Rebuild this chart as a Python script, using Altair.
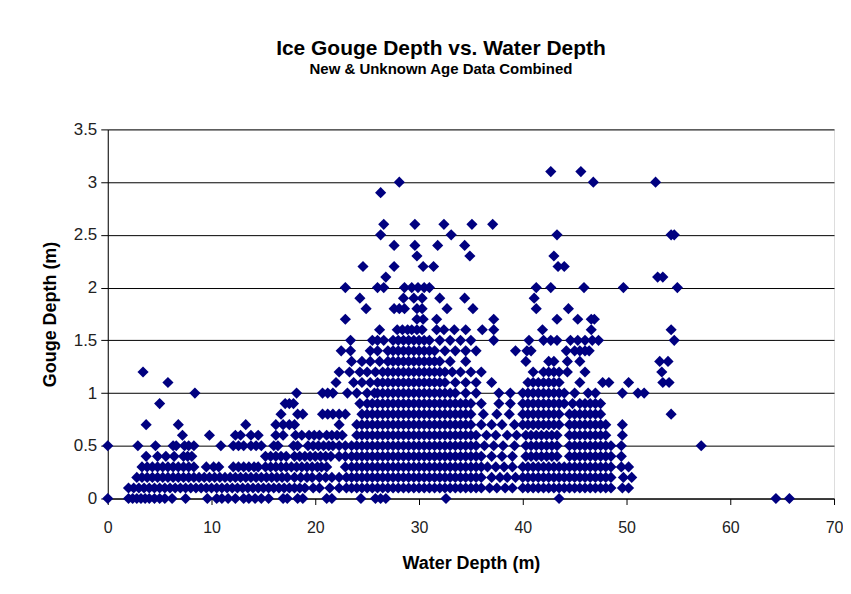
import altair as alt
import pandas as pd

# Gouge depth (m) -> water depths (m) of the gouges plotted at that gouge depth
SHALLOW = {
    0.0: [0.0, 2.0, 2.4, 2.8, 3.2, 3.6, 4.0, 4.5, 5.0, 5.5, 6.2, 7.5, 9.6, 10.5, 11.0, 11.6, 12.3, 13.1,
          13.6, 14.2, 14.8, 15.5, 16.9, 17.3, 18.3, 18.8, 21.1, 21.6],
    0.1: [2.0, 2.5, 3.0, 3.5, 4.0, 4.5, 5.0, 5.5, 6.0, 6.5, 7.0, 7.5, 8.0, 8.5, 9.0, 9.5, 10.0, 10.5, 11.0,
          11.5, 12.0, 12.5, 13.0, 13.5, 14.0, 14.5, 15.0, 15.5, 16.0, 16.5, 17.0, 17.5, 18.0, 18.5, 19.0,
          19.8, 20.4, 21.4, 22.3, 23.0],
    0.2: [2.8, 3.3, 3.8, 4.3, 4.8, 5.3, 5.8, 6.3, 6.8, 7.3, 7.8, 8.3, 8.8, 9.3, 9.8, 10.3, 10.8, 11.3, 11.8,
          12.3, 12.8, 13.3, 13.8, 14.3, 14.8, 15.3, 15.8, 16.3, 16.8, 17.3, 18.0, 18.6, 19.2, 19.7, 20.4,
          21.0, 21.6, 22.3, 23.0],
    0.3: [3.3, 3.8, 4.3, 4.8, 5.3, 5.8, 6.3, 6.8, 7.3, 7.8, 8.3, 9.5, 10.2, 10.7, 12.1, 12.6, 13.1, 13.6,
          14.1, 14.5, 15.2, 15.7, 16.2, 16.7, 17.2, 17.7, 18.2, 18.7, 19.2, 19.7, 20.2, 20.6, 21.1, 22.9],
    0.4: [3.7, 4.8, 5.6, 6.4, 7.3, 7.7, 8.1, 15.2, 15.7, 16.2, 16.7, 17.2, 18.0, 18.5, 19.0, 19.5, 20.0,
          20.5, 21.0, 21.5, 22.3, 22.9],
    0.5: [0.0, 2.9, 4.6, 6.3, 6.6, 7.4, 7.8, 8.3, 10.9, 12.1, 12.6, 13.1, 13.8, 14.3, 14.8, 16.0, 16.4,
          17.9, 18.3, 19.3, 19.8, 20.3, 20.8, 21.3, 21.7, 22.3, 22.9],
    0.6: [7.2, 9.8, 12.3, 12.8, 13.8, 14.5, 16.2, 16.9, 18.1, 18.7, 19.4, 19.9, 20.4, 21.1, 21.6, 22.1, 22.6],
    0.7: [3.7, 6.8, 13.3, 16.2, 16.9, 17.5, 18.0, 22.3],
    0.8: [16.7, 18.3, 18.8, 20.7, 21.2, 21.7, 22.3, 22.9],
    0.9: [5.0, 17.1, 17.5, 17.9],
    1.0: [8.4, 18.2, 20.7, 21.2, 21.7, 23.1],
    1.1: [5.8, 22.0],
    1.2: [3.4, 22.3],
}

CORE = {
    0.0: [24.4, 25.8, 26.3, 26.8, 32.6],
    0.1: [23.5, 24.0, 24.5, 25.0, 25.5, 26.0, 26.5, 27.0, 27.5, 28.0, 28.5, 29.0, 29.5, 30.0, 30.5, 31.0,
          31.5, 32.0, 32.5, 33.0, 33.5, 34.0, 34.5, 35.0, 35.5, 36.0, 36.8, 37.5, 38.3, 39.0],
    0.2: [23.5, 24.0, 24.5, 25.0, 25.5, 26.0, 26.5, 27.0, 27.5, 28.0, 28.5, 29.0, 29.5, 30.0, 30.5, 31.0,
          31.5, 32.0, 32.5, 33.0, 33.5, 34.0, 34.5, 35.0, 35.5, 36.0, 37.0, 37.8, 38.5, 39.3],
    0.3: [23.5, 24.0, 24.5, 25.0, 25.5, 26.0, 26.5, 27.0, 27.5, 28.0, 28.5, 29.0, 29.5, 30.0, 30.5, 31.0,
          31.5, 32.0, 32.5, 33.0, 33.5, 34.0, 34.5, 35.0, 35.5, 36.0, 36.6, 37.4, 38.2, 39.0],
    0.4: [23.5, 24.0, 24.5, 25.0, 25.5, 26.0, 26.5, 27.0, 27.5, 28.0, 28.5, 29.0, 29.5, 30.0, 30.5, 31.0,
          31.5, 32.0, 32.5, 33.0, 33.5, 34.0, 34.5, 35.0, 35.5, 36.0, 37.0, 38.0, 39.0],
    0.5: [23.5, 24.0, 24.5, 25.0, 25.5, 26.0, 26.5, 27.0, 27.5, 28.0, 28.5, 29.0, 29.5, 30.0, 30.5, 31.0,
          31.5, 32.0, 32.5, 33.0, 33.5, 34.0, 34.5, 35.0, 35.5, 36.3, 37.2, 38.1, 39.2],
    0.6: [24.0, 24.5, 25.0, 25.5, 26.0, 26.5, 27.0, 27.5, 28.0, 28.5, 29.0, 29.5, 30.0, 30.5, 31.0, 31.5,
          32.0, 32.5, 33.0, 33.5, 34.0, 34.5, 35.0, 35.5, 36.5, 37.4, 38.5, 39.4],
    0.7: [24.0, 24.5, 25.0, 25.5, 26.0, 26.5, 27.0, 27.5, 28.0, 28.5, 29.0, 29.5, 30.0, 30.5, 31.0, 31.5,
          32.0, 32.5, 33.0, 33.5, 34.0, 34.5, 35.0, 36.0, 37.0, 38.0, 39.2],
    0.8: [24.5, 25.0, 25.5, 26.0, 26.5, 27.0, 27.5, 28.0, 28.5, 29.0, 29.5, 30.0, 30.5, 31.0, 31.5, 32.0,
          32.5, 33.0, 33.5, 34.0, 34.5, 35.0, 36.2, 37.5, 38.7],
    0.9: [24.3, 25.0, 25.5, 26.0, 26.5, 27.0, 27.5, 28.0, 28.5, 29.0, 29.5, 30.0, 30.5, 31.0, 31.5, 32.0,
          32.5, 33.0, 33.5, 34.0, 34.5, 35.0, 36.0, 37.7, 38.8],
    1.0: [24.0, 25.0, 25.7, 26.0, 26.5, 27.0, 27.5, 28.0, 28.5, 29.0, 29.5, 30.0, 30.5, 31.0, 31.5, 32.0,
          32.5, 33.0, 33.5, 34.5, 35.5, 37.7, 38.8],
    1.1: [23.7, 24.5, 25.3, 26.0, 26.5, 27.0, 27.5, 28.0, 28.5, 29.0, 29.5, 30.0, 30.5, 31.0, 31.5, 32.0,
          32.5, 33.5, 34.5, 35.5, 37.0],
    1.2: [23.3, 24.3, 25.0, 25.8, 26.5, 27.0, 27.5, 28.0, 28.5, 29.0, 29.5, 30.0, 30.5, 31.0, 31.5, 32.0,
          32.5, 33.2, 34.0, 35.0, 36.0],
    1.3: [23.5, 24.5, 25.3, 26.2, 27.0, 27.5, 28.0, 28.5, 29.0, 29.5, 30.0, 30.5, 31.0, 31.5, 32.0, 33.0, 34.5],
    1.4: [22.5, 23.4, 25.3, 26.0, 27.0, 27.5, 28.0, 28.5, 29.0, 29.5, 30.0, 30.5, 31.0, 31.5, 32.5, 33.5,
          34.5, 35.5, 39.3],
    1.5: [23.4, 25.5, 26.0, 26.6, 27.5, 28.0, 28.5, 29.0, 29.5, 30.0, 30.5, 31.0, 32.0, 33.0, 34.0, 35.0, 37.2],
    1.6: [26.2, 27.9, 28.4, 28.9, 29.3, 29.8, 30.3, 31.7, 32.4, 33.4, 34.5, 36.1, 37.2],
    1.7: [22.9, 29.8, 30.4, 31.7, 37.2],
    1.8: [24.9, 27.6, 28.1, 28.6, 29.8, 30.3, 32.7, 35.2],
    1.9: [24.3, 28.5, 29.5, 30.3, 32.0, 34.4],
    2.0: [22.9, 26.0, 26.6, 28.6, 29.3, 29.9, 30.5, 31.0],
    2.1: [26.8],
    2.2: [24.6, 27.6, 30.4, 31.4],
    2.3: [29.8, 34.9],
    2.4: [27.6, 29.6, 31.8, 34.4],
    2.5: [26.3, 33.1],
    2.6: [26.6, 29.6, 32.4, 35.1, 37.1],
    2.9: [26.3],
    3.0: [28.1],
}

DEEP = {
    0.0: [43.5, 64.4, 65.7],
    0.1: [40.0, 40.5, 41.0, 41.5, 42.0, 42.5, 43.0, 43.5, 44.0, 44.5, 45.0, 45.5, 46.0, 46.5, 47.0, 47.5,
          48.0, 48.5, 49.6, 50.2],
    0.2: [40.0, 40.5, 41.0, 41.5, 42.0, 42.5, 43.0, 43.5, 44.0, 44.5, 45.0, 45.5, 46.0, 46.5, 47.0, 47.5,
          48.0, 48.5, 49.7, 50.5],
    0.3: [40.0, 40.5, 41.0, 41.5, 42.0, 42.5, 43.0, 43.5, 44.0, 44.5, 45.0, 45.5, 46.0, 46.5, 47.0, 47.5,
          48.0, 48.5, 49.5, 50.2],
    0.4: [40.3, 40.8, 41.3, 41.8, 42.3, 42.8, 43.3, 44.5, 45.0, 45.5, 46.0, 46.5, 47.0, 47.5, 48.0, 48.5, 49.5],
    0.5: [40.3, 40.8, 41.3, 41.8, 42.3, 42.8, 43.3, 44.5, 45.0, 45.5, 46.0, 46.5, 47.0, 47.5, 48.0, 48.5,
          49.5, 57.2],
    0.6: [40.3, 40.8, 41.3, 41.8, 42.3, 42.8, 43.3, 44.5, 45.0, 45.5, 46.0, 46.5, 47.0, 47.5, 48.0, 49.6],
    0.7: [40.0, 40.5, 41.0, 41.5, 42.0, 42.5, 43.0, 43.5, 44.5, 45.0, 45.5, 46.0, 46.5, 47.0, 47.5, 48.0, 49.6],
    0.8: [40.0, 40.5, 41.0, 41.5, 42.0, 42.5, 43.0, 43.5, 44.5, 45.0, 45.5, 46.0, 46.5, 47.0, 47.5, 54.3],
    0.9: [40.0, 40.5, 41.0, 41.5, 42.0, 42.5, 43.0, 43.5, 44.0, 44.8, 45.5, 46.0, 46.5, 47.0, 47.5],
    1.0: [40.0, 40.5, 41.0, 41.5, 42.0, 42.5, 43.0, 43.5, 44.0, 45.0, 46.3, 47.0, 49.6, 51.1, 51.7],
    1.1: [40.5, 41.0, 41.5, 42.0, 42.5, 43.0, 43.5, 45.5, 47.7, 48.3, 50.2, 53.5, 54.1],
    1.2: [41.0, 42.0, 42.5, 43.0, 43.5, 44.3, 46.0, 53.4],
    1.3: [40.3, 42.5, 43.0, 44.3, 45.5, 53.2, 54.0],
    1.4: [40.4, 40.8, 44.2, 45.0, 45.5, 46.0, 46.4],
    1.5: [40.6, 42.0, 42.7, 43.3, 44.6, 45.3, 46.0, 46.7, 47.3, 54.6],
    1.6: [41.9, 46.6, 54.3],
    1.7: [43.3, 45.3, 46.6, 46.9],
    1.8: [41.3, 44.4],
    1.9: [41.1],
    2.0: [41.3, 42.7, 45.9, 49.7, 54.9],
    2.1: [53.0, 53.5],
    2.2: [43.4, 44.0],
    2.3: [43.0],
    2.5: [43.3, 54.3, 54.6],
    3.0: [46.8, 52.8],
    3.1: [42.7, 45.6],
}

X_TICKS = [0, 10, 20, 30, 40, 50, 60, 70]
Y_TICKS = [0, 0.5, 1, 1.5, 2, 2.5, 3, 3.5]

records = []
for group in (SHALLOW, CORE, DEEP):
    for gouge, waters in group.items():
        for w in waters:
            records.append({"water": w, "gouge": gouge})
df = pd.DataFrame(records)

FONT = "Liberation Sans"

chart = (
    alt.Chart(df)
    .mark_point(shape="diamond", filled=True, size=125, color="#000080", opacity=1)
    .encode(
        x=alt.X(
            "water:Q",
            scale=alt.Scale(domain=[0, 70], nice=False, zero=False),
            axis=alt.Axis(
                values=X_TICKS, title="Water Depth (m)", grid=False, format="d",
                labelFlush=False, labelOverlap=False,
                domainColor="#000000", tickColor="#000000", tickSize=6,
                labelFont=FONT, labelFontSize=16, labelColor="#222222", labelPadding=15,
                titleFont=FONT, titleFontSize=18, titleFontWeight="bold", titleColor="#000000",
                titlePadding=19,
            ),
        ),
        y=alt.Y(
            "gouge:Q",
            scale=alt.Scale(domain=[0, 3.5], nice=False, zero=True),
            axis=alt.Axis(
                values=Y_TICKS, title="Gouge Depth (m)", grid=True, format="~g",
                labelFlush=False, labelOverlap=False,
                gridColor="#000000", gridOpacity=1, gridWidth=1,
                domainColor="#000000", tickColor="#000000", tickSize=7,
                labelFont=FONT, labelFontSize=17, labelColor="#222222", labelPadding=4,
                titleFont=FONT, titleFontSize=18, titleFontWeight="bold", titleColor="#000000",
                titlePadding=14,
            ),
        ),
    )
    .properties(
        width=728,
        height=370,
        autosize="none",
        padding={"left": 100, "top": 121, "right": 9, "bottom": 90},
        title=alt.TitleParams(
            text="Ice Gouge Depth vs. Water Depth",
            subtitle="New & Unknown Age Data Combined",
            font=FONT, fontSize=21, fontWeight="bold", color="#000000",
            subtitleFont=FONT, subtitleFontSize=15, subtitleFontWeight="bold",
            subtitleColor="#000000", subtitlePadding=3,
            anchor="middle", dx=-30, offset=44,
        ),
    )
    .configure_view(stroke="#808080", strokeWidth=1)
    .configure(background="white")
)

chart.save("out.html", embed_options={"renderer": "svg", "actions": False})
